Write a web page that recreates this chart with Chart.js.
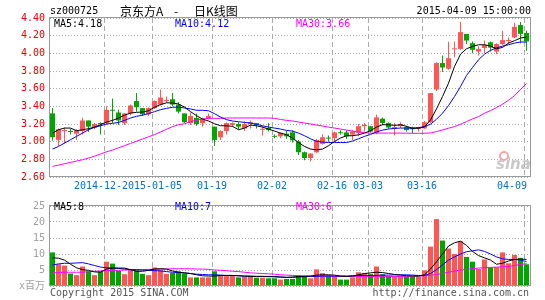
<!DOCTYPE html>
<html>
<head>
<meta charset="utf-8">
<script src="https://cdn.jsdelivr.net/npm/chart.js@4.4.1/dist/chart.umd.min.js"></script>
<style>
    body { margin: 0; background: #fff; width: 545px; height: 300px; overflow: hidden; position: relative; }
    #kline { position: absolute; left: 0; top: 0; }
    #volume { position: absolute; left: 0; top: 195px; }
</style>
</head>
<body>
<canvas id="kline" width="545" height="196"></canvas>
<canvas id="volume" width="545" height="105"></canvas>
<script>
// tick labels
const dateLabels = ['2014-12-22', '2015-01-05', '01-19', '02-02', '02-16', '03-03', '03-16', '04-09'];
const dateIndex = [9, 17, 27, 37, 47, 53, 62, 79];
const priceTicks = [2.6, 2.8, 3.0, 3.2, 3.4, 3.6, 3.8, 4.0, 4.2, 4.4];
const volumeTicks = [0, 5, 10, 15, 20, 25];

// daily candles, 2014-12-09 .. 2015-04-09
const opens = [3.32, 3.02, 3.12, 3.12, 3.09, 3.12, 3.24, 3.16, 3.21, 3.21,
    3.36, 3.33, 3.21, 3.32, 3.46, 3.38, 3.31, 3.38, 3.42, 3.46,
    3.48, 3.42, 3.32, 3.21, 3.27, 3.21, 3.26, 3.17, 3.05, 3.12,
    3.19, 3.20, 3.15, 3.20, 3.21, 3.135, 3.155, 3.065, 3.06, 3.09,
    3.105, 3.00, 2.88, 2.815, 2.88, 2.975, 3.04, 3.04, 3.10, 3.105,
    3.08, 3.10, 3.175, 3.175, 3.10, 3.26, 3.21, 3.145, 3.175, 3.165,
    3.16, 3.145, 3.15, 3.22, 3.59, 3.89, 3.825, 4.045, 4.05, 4.22,
    4.115, 4.02, 4.06, 4.125, 4.02, 4.105, 4.14, 4.18, 4.32, 4.23];
const highs = [3.38, 3.15, 3.16, 3.15, 3.14, 3.27, 3.24, 3.21, 3.22, 3.40,
    3.49, 3.36, 3.32, 3.42, 3.55, 3.38, 3.39, 3.47, 3.59, 3.51,
    3.55, 3.45, 3.32, 3.33, 3.32, 3.27, 3.32, 3.17, 3.13, 3.22,
    3.22, 3.22, 3.23, 3.24, 3.21, 3.175, 3.21, 3.08, 3.10, 3.12,
    3.13, 3.02, 2.89, 2.87, 3.03, 3.08, 3.07, 3.115, 3.13, 3.13,
    3.13, 3.20, 3.21, 3.18, 3.305, 3.275, 3.22, 3.21, 3.22, 3.18,
    3.17, 3.17, 3.235, 3.55, 3.90, 3.975, 4.13, 4.135, 4.355, 4.22,
    4.135, 4.08, 4.145, 4.135, 4.115, 4.255, 4.18, 4.345, 4.355, 4.255];
const lows = [3.01, 2.95, 2.98, 3.08, 3.02, 3.08, 3.11, 3.14, 3.08, 3.19,
    3.21, 3.19, 3.19, 3.30, 3.34, 3.29, 3.29, 3.37, 3.41, 3.44,
    3.40, 3.32, 3.21, 3.19, 3.18, 3.17, 3.25, 2.95, 3.02, 3.08,
    3.17, 3.14, 3.12, 3.15, 3.15, 3.07, 3.115, 3.04, 3.04, 3.03,
    2.99, 2.85, 2.79, 2.775, 2.87, 2.965, 3.00, 3.00, 3.08, 3.03,
    3.02, 3.06, 3.115, 3.105, 3.085, 3.19, 3.145, 3.07, 3.155, 3.115,
    3.095, 3.115, 3.145, 3.21, 3.575, 3.79, 3.815, 3.955, 4.04, 4.105,
    4.00, 3.975, 4.00, 4.02, 3.99, 4.095, 4.105, 4.17, 4.115, 4.03];
const closes = [3.05, 3.14, 3.13, 3.11, 3.13, 3.24, 3.17, 3.20, 3.20, 3.36,
    3.35, 3.24, 3.32, 3.41, 3.39, 3.31, 3.38, 3.46, 3.50, 3.47,
    3.42, 3.34, 3.22, 3.29, 3.20, 3.26, 3.29, 3.02, 3.12, 3.21,
    3.21, 3.17, 3.20, 3.22, 3.19, 3.145, 3.13, 3.055, 3.10, 3.06,
    3.015, 2.88, 2.815, 2.865, 3.02, 3.05, 3.035, 3.105, 3.095, 3.06,
    3.115, 3.175, 3.19, 3.115, 3.275, 3.21, 3.16, 3.165, 3.20, 3.13,
    3.14, 3.16, 3.22, 3.55, 3.89, 3.84, 3.945, 4.055, 4.24, 4.145,
    4.04, 4.05, 4.095, 4.065, 4.105, 4.15, 4.145, 4.30, 4.22, 4.135];

const ma5 = [3.097, 3.135, 3.154, 3.154, 3.124, 3.135, 3.147, 3.165, 3.192, 3.222,
    3.241, 3.268, 3.30, 3.324, 3.332, 3.336, 3.35, 3.39, 3.42, 3.44,
    3.438, 3.426, 3.392, 3.34, 3.294, 3.256, 3.234, 3.203, 3.18, 3.18,
    3.173, 3.135, 3.154, 3.188, 3.18, 3.165, 3.143, 3.12, 3.097, 3.078,
    3.041, 2.99, 2.946, 2.916, 2.908, 2.916, 2.954, 3.003, 3.041, 3.067,
    3.067, 3.078, 3.097, 3.124, 3.165, 3.192, 3.192, 3.184, 3.192, 3.173,
    3.152, 3.152, 3.167, 3.246, 3.371, 3.511, 3.662, 3.851, 3.991, 4.052,
    4.078, 4.097, 4.097, 4.082, 4.052, 4.067, 4.116, 4.143, 4.173, 4.184];
const ma10 = [2.916, 2.946, 2.984, 3.022, 3.06, 3.097, 3.135, 3.162, 3.18, 3.20,
    3.207, 3.218, 3.241, 3.268, 3.287, 3.30, 3.317, 3.34, 3.362, 3.377,
    3.389, 3.392, 3.381, 3.37, 3.355, 3.355, 3.35, 3.317, 3.279, 3.249,
    3.234, 3.226, 3.218, 3.211, 3.196, 3.18, 3.165, 3.154, 3.143, 3.128,
    3.12, 3.097, 3.067, 3.033, 3.003, 2.995, 2.99, 2.99, 2.99, 2.99,
    3.007, 3.033, 3.06, 3.082, 3.109, 3.131, 3.143, 3.15, 3.154, 3.154,
    3.152, 3.159, 3.171, 3.197, 3.254, 3.322, 3.409, 3.511, 3.624, 3.749,
    3.84, 3.927, 3.991, 4.033, 4.063, 4.082, 4.097, 4.116, 4.128, 4.128];
const ma30 = [2.72, 2.735, 2.75, 2.765, 2.78, 2.795, 2.815, 2.835, 2.86, 2.885,
    2.905, 2.93, 2.955, 2.98, 3.005, 3.03, 3.055, 3.08, 3.11, 3.14,
    3.17, 3.192, 3.203, 3.226, 3.245, 3.256, 3.264, 3.264, 3.264, 3.268,
    3.268, 3.268, 3.268, 3.268, 3.268, 3.268, 3.268, 3.264, 3.252, 3.241,
    3.234, 3.222, 3.211, 3.20, 3.188, 3.177, 3.165, 3.154, 3.143, 3.131,
    3.12, 3.109, 3.101, 3.097, 3.097, 3.097, 3.097, 3.097, 3.097, 3.097,
    3.095, 3.095, 3.095, 3.099, 3.114, 3.133, 3.152, 3.171, 3.197, 3.227,
    3.258, 3.284, 3.322, 3.352, 3.386, 3.424, 3.469, 3.522, 3.59, 3.659];

// volume, millions of shares
const volumes = [10.5, 6.8, 6.4, 3.9, 3.4, 6.1, 4.6, 3.4, 4.6, 7.6,
    7.0, 4.8, 3.7, 4.9, 4.9, 3.8, 3.4, 5.8, 5.1, 3.8,
    4.1, 4.6, 3.9, 2.7, 2.7, 2.7, 2.7, 4.6, 3.3, 3.1,
    3.3, 2.7, 2.9, 3.1, 2.6, 2.6, 2.4, 2.4, 2.0, 2.2,
    2.2, 3.3, 3.1, 2.4, 5.2, 4.0, 3.3, 3.1, 2.0, 2.0,
    2.7, 4.3, 4.0, 3.7, 6.1, 3.7, 3.1, 3.1, 3.1, 2.9,
    2.9, 2.9, 4.9, 12.3, 20.9, 14.2, 11.7, 10.0, 14.0, 9.1,
    7.6, 5.3, 8.3, 5.9, 5.9, 10.5, 7.1, 9.7, 8.8, 6.8];
const volMa5 = [8.8, 8.7, 8.1, 6.8, 5.7, 5.1, 4.9, 4.4, 4.3, 5.3,
    5.6, 5.6, 5.6, 5.1, 4.6, 4.6, 4.9, 5.3, 5.4, 5.3,
    4.7, 4.3, 4.1, 3.9, 3.5, 3.2, 3.1, 3.1, 3.3, 3.3,
    3.3, 3.2, 3.1, 3.0, 3.0, 3.0, 2.9, 2.9, 2.8, 2.7,
    2.8, 3.0, 3.0, 3.1, 3.4, 3.5, 3.5, 3.4, 3.1, 3.0,
    3.1, 3.5, 3.9, 4.1, 4.3, 4.2, 3.9, 3.6, 3.4, 3.2,
    3.1, 3.1, 3.5, 5.3, 7.6, 10.0, 12.5, 13.5, 14.0, 12.7,
    10.8, 9.5, 8.8, 8.1, 6.8, 7.1, 7.8, 8.3, 8.4, 8.3];
const volMa10 = [6.6, 6.9, 7.1, 7.1, 7.2, 7.3, 6.9, 6.4, 5.9, 5.7,
    5.6, 5.5, 5.3, 5.1, 5.1, 5.0, 4.9, 4.8, 4.7, 4.5,
    4.3, 4.2, 4.1, 3.9, 3.7, 3.6, 3.5, 3.5, 3.4, 3.3,
    3.3, 3.2, 3.1, 3.1, 3.0, 3.0, 3.0, 2.9, 2.8, 2.7,
    2.7, 2.8, 2.9, 3.0, 3.0, 3.1, 3.1, 3.1, 3.1, 3.1,
    3.2, 3.3, 3.3, 3.3, 3.3, 3.4, 3.4, 3.5, 3.5, 3.5,
    3.4, 3.3, 3.3, 3.9, 5.1, 6.6, 8.1, 9.1, 10.0, 10.7,
    11.0, 11.3, 10.8, 10.0, 9.1, 8.5, 8.3, 8.3, 8.1, 7.6];
const volMa30 = [4.1, 4.2, 4.3, 4.3, 4.3, 4.3, 4.5, 4.6, 4.7, 4.8,
    4.9, 4.9, 5.0, 5.0, 5.1, 5.1, 5.2, 5.2, 5.3, 5.3,
    5.4, 5.4, 5.4, 5.4, 5.3, 5.3, 5.2, 5.0, 4.9, 4.8,
    4.6, 4.5, 4.3, 4.1, 4.0, 3.9, 3.8, 3.7, 3.5, 3.4,
    3.3, 3.2, 3.2, 3.1, 3.1, 3.1, 3.1, 3.0, 3.0, 3.0,
    3.0, 3.0, 3.0, 3.0, 3.0, 3.0, 3.0, 3.0, 3.0, 3.0,
    3.1, 3.1, 3.2, 3.3, 3.6, 3.9, 4.3, 4.7, 5.0, 5.2,
    5.4, 5.6, 5.7, 5.8, 5.9, 6.0, 6.1, 6.4, 6.7, 7.0];

const UP = '#ff5555';
const DOWN = '#00a600';
const MONO = '"DejaVu Sans Mono", "Noto Sans CJK SC", monospace';
const SLOT = 0.42; // candle sits at the left part of its day slot

Chart.defaults.font.family = MONO;
Chart.defaults.font.size = 10;

const candleColors = closes.map((c, i) => c >= opens[i] ? UP : DOWN);
const at = (arr) => arr.map((v, i) => ({x: i + SLOT, y: v}));

function maLine(values, color) {
    return {
        type: 'line', data: at(values), borderColor: color, borderWidth: 1,
        pointRadius: 0, tension: 0, order: 0
    };
}

function xScale(height) {
    return {
        type: 'linear', min: 0, max: opens.length, offset: false,
        afterBuildTicks: s => { s.ticks = dateIndex.map(v => ({value: v})); },
        afterFit: s => { s.height = height; },
        ticks: {display: false},
        grid: {color: '#aaaaaa', drawTicks: false, offset: false},
        border: {display: false, dash: [5, 3]}
    };
}

function drawTexts(chart, items) {
    const ctx = chart.ctx;
    ctx.save();
    ctx.textBaseline = 'middle';
    items.forEach(t => {
        ctx.font = t.font || ('10px ' + MONO);
        ctx.fillStyle = t.color || '#000';
        ctx.textAlign = t.align || 'left';
        ctx.fillText(t.text, t.x, t.y);
    });
    ctx.restore();
}

// date labels: each one blanks what is under it, the last one is kept inside the frame
function drawDates(chart) {
    const ctx = chart.ctx;
    const xs = chart.scales.x;
    const y = 186;
    ctx.save();
    ctx.font = '10px ' + MONO;
    ctx.textAlign = 'center';
    ctx.textBaseline = 'middle';
    dateLabels.forEach((t, k) => {
        const w = ctx.measureText(t).width;
        const cx = Math.min(xs.getPixelForValue(dateIndex[k]), chart.chartArea.right - w / 2 - 3);
        ctx.fillStyle = '#fff';
        ctx.fillRect(cx - w / 2, y - 6, w, 12);
        ctx.fillStyle = '#0a6fc2';
        ctx.fillText(t, cx, y);
    });
    ctx.restore();
}

function frame(chart) {
    const {left, top, width, height} = chart.chartArea;
    const ctx = chart.ctx;
    ctx.save();
    ctx.strokeStyle = '#999999';
    ctx.lineWidth = 1;
    ctx.strokeRect(left - 0.5, top - 0.5, width + 1, height);
    ctx.restore();
}

new Chart(document.getElementById('kline'), {
    type: 'bar',
    data: {
        datasets: [
            maLine(ma5, '#000000'),
            maLine(ma10, '#0000ff'),
            maLine(ma30, '#ff00ff'),
            {
                data: opens.map((o, i) => ({x: i + SLOT, y: [lows[i], highs[i]]})),
                backgroundColor: candleColors, barThickness: 1, grouped: false,
                inflateAmount: 0, borderWidth: 0, order: 2
            },
            {
                data: opens.map((o, i) => ({x: i + SLOT, y: [o, closes[i]]})),
                backgroundColor: candleColors, barThickness: 5, minBarLength: 1, grouped: false,
                inflateAmount: 0, borderWidth: 0, order: 1
            }
        ]
    },
    options: {
        responsive: false,
        animation: false,
        layout: {padding: {left: 0, right: 15, top: 18, bottom: 0}},
        plugins: {legend: {display: false}, tooltip: {enabled: false}},
        scales: {
            x: xScale(19),
            y: {
                min: 2.6, max: 4.4,
                afterBuildTicks: s => { s.ticks = priceTicks.map(v => ({value: v})); },
                afterFit: s => { s.width = 50; },
                ticks: {color: '#ee0000', padding: 5, callback: v => v.toFixed(2)},
                grid: {color: '#aaaaaa', drawTicks: false},
                border: {display: false, dash: [1, 2]}
            }
        }
    },
    plugins: [{
        id: 'decor',
        beforeDatasetsDraw(chart) {
            const ctx = chart.ctx;
            ctx.save();
            ctx.strokeStyle = '#f2a8a8';
            ctx.lineWidth = 2;
            ctx.beginPath();
            ctx.arc(504, 156, 4, 0, Math.PI * 2);
            ctx.stroke();
            ctx.restore();
            drawTexts(chart, [{text: 'sina', x: 496, y: 165, color: '#c9c9c9', font: 'italic bold 15px "DejaVu Sans"'}]);
        },
        afterDraw(chart) {
            frame(chart);
            drawDates(chart);
            drawTexts(chart, [
                {text: 'sz000725', x: 50, y: 11},
                {text: '京东方A', x: 120, y: 11, font: '12px "Noto Sans CJK SC"'},
                {text: '-', x: 176, y: 11, align: 'center', font: '12px "Noto Sans CJK SC"'},
                {text: '日K线图', x: 194, y: 11, font: '12px "Noto Sans CJK SC"'},
                {text: '2015-04-09 15:00:00', x: 531, y: 11, align: 'right'},
                {text: 'MA5:4.18', x: 54, y: 24},
                {text: 'MA10:4.12', x: 175, y: 24, color: '#0000ff'},
                {text: 'MA30:3.66', x: 296, y: 24, color: '#ff00ff'}
            ]);
        }
    }]
});

new Chart(document.getElementById('volume'), {
    type: 'bar',
    data: {
        datasets: [
            maLine(volMa5, '#000000'),
            maLine(volMa10, '#0000ff'),
            maLine(volMa30, '#ff00ff'),
            {
                data: at(volumes),
                backgroundColor: candleColors, barThickness: 5, grouped: false,
                inflateAmount: 0, borderWidth: 0, order: 1
            }
        ]
    },
    options: {
        responsive: false,
        animation: false,
        layout: {padding: {left: 0, right: 15, top: 6, bottom: 0}},
        plugins: {legend: {display: false}, tooltip: {enabled: false}},
        scales: {
            x: xScale(14),
            y: {
                min: 0, max: 25,
                afterBuildTicks: s => { s.ticks = volumeTicks.map(v => ({value: v})); },
                afterFit: s => { s.width = 50; },
                ticks: {color: '#a0a0a0', padding: 5, callback: v => v === 0 ? 'x百万' : String(v)},
                grid: {color: '#aaaaaa', drawTicks: false},
                border: {display: false, dash: [1, 2]}
            }
        }
    },
    plugins: [{
        id: 'decor',
        afterDraw(chart) {
            frame(chart);
            drawTexts(chart, [
                {text: 'MA5:8', x: 54, y: 12},
                {text: 'MA10:7', x: 175, y: 12, color: '#0000ff'},
                {text: 'MA30:6', x: 296, y: 12, color: '#ff00ff'},
                {text: 'Copyright 2015 SINA.COM', x: 50, y: 98, color: '#555555'},
                {text: 'http://finance.sina.com.cn', x: 529, y: 98, align: 'right', color: '#555555'}
            ]);
        }
    }]
});
</script>
</body>
</html>
